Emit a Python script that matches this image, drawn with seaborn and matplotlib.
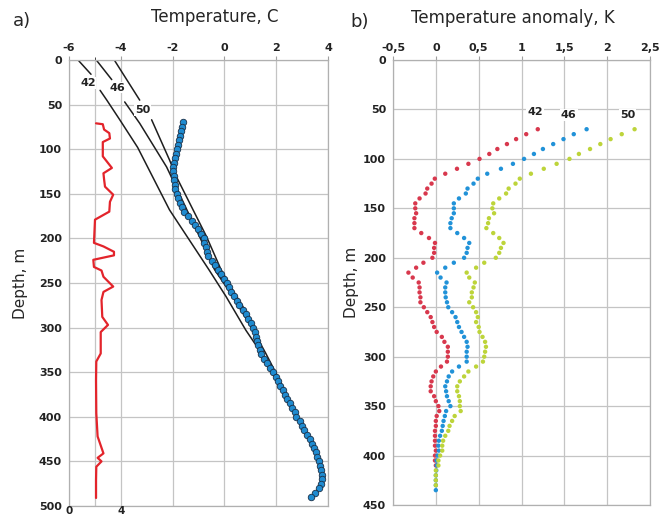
import matplotlib
matplotlib.use('Agg')
import matplotlib.pyplot as plt
import pandas as pd
import seaborn as sns

# ---------- a) temperature profile ----------
# measured temperature (blue dots), every 5 m
depth_a = list(range(70, 495, 5))
temp_a = [-1.60, -1.62, -1.66, -1.70, -1.74, -1.78, -1.82, -1.86, -1.91, -1.96,
          -2.00, -1.99, -1.96, -1.94, -1.91, -1.89, -1.84, -1.78, -1.72, -1.65,
          -1.55, -1.42, -1.26, -1.13, -1.01, -0.90, -0.80, -0.77, -0.72, -0.68,
          -0.62, -0.48, -0.37, -0.26, -0.14, -0.02, 0.09, 0.18, 0.26, 0.37,
          0.48, 0.58, 0.70, 0.82, 0.93, 1.02, 1.10, 1.18, 1.22, 1.26,
          1.30, 1.37, 1.43, 1.52, 1.65, 1.77, 1.88, 1.98, 2.07, 2.15,
          2.25, 2.34, 2.43, 2.53, 2.62, 2.71, 2.78, 2.90, 2.99, 3.08,
          3.19, 3.30, 3.40, 3.47, 3.53, 3.59, 3.64, 3.69, 3.74, 3.77,
          3.78, 3.74, 3.64, 3.51, 3.33]

# red curve, bottom axis 0..4
red_depth = [71, 72, 78, 82, 88, 92, 108, 121, 127, 134,
             142, 151, 159, 170, 179, 205, 209, 215, 219, 224,
             232, 236, 243, 254, 260, 269, 288, 297, 305, 329,
             338, 359, 396, 422, 441, 446, 450, 456, 471, 491]
red_vals = [2.08, 2.6, 2.7, 3.1, 3.15, 2.6, 2.6, 3.3, 2.65, 2.7,
            2.77, 3.4, 3.15, 3.1, 2.0, 1.92, 2.65, 3.46, 3.46, 1.87,
            1.92, 2.5, 2.65, 3.4, 2.65, 2.5, 2.56, 3.0, 2.44, 2.44,
            2.1, 2.08, 2.1, 2.2, 2.65, 2.2, 2.5, 2.1, 2.08, 2.08]

# black model curves, each broken where its label sits
line_names = ['42', '46', '50']
l42_top_d = [1, 16]
l42_top_t = [-5.62, -5.15]
l42_d = [34, 45, 67, 98, 168, 235, 265, 303, 336, 362, 385]
l42_t = [-4.80, -4.54, -4.04, -3.35, -2.12, -0.60, 0.06, 0.83, 1.60, 2.10, 2.50]
l46_top_d = [1, 22]
l46_top_t = [-4.92, -4.35]
l46_d = [47, 71, 120, 198, 235, 265, 299, 329, 351, 375]
l46_t = [-3.85, -3.27, -2.23, -0.96, -0.38, 0.32, 1.03, 1.60, 1.99, 2.40]
l50_top_d = [1, 45]
l50_top_t = [-4.23, -3.27]
l50_d = [67, 112, 131, 198, 235, 258, 288, 306, 329, 351, 375]
l50_t = [-2.81, -2.12, -1.85, -0.69, -0.13, 0.32, 0.96, 1.22, 1.41, 1.86, 2.35]
label_a_t = [-5.27, -4.15, -3.15]
label_a_d = [26, 31, 56]

# ---------- b) temperature anomaly ----------
depth_42 = list(range(70, 415, 5))
anom_42 = [1.19, 1.055, 0.937, 0.83, 0.718, 0.624, 0.51, 0.38, 0.247, 0.11,
           -0.012, -0.05, -0.10, -0.12, -0.19, -0.24, -0.24, -0.23, -0.25, -0.25,
           -0.25, -0.17, -0.08, -0.01, -0.02, -0.02, -0.04, -0.145, -0.23, -0.32,
           -0.27, -0.20, -0.19, -0.19, -0.18, -0.18, -0.14, -0.10, -0.06, -0.04,
           -0.02, 0.01, 0.07, 0.10, 0.14, 0.14, 0.14, 0.13, 0.06, 0.00,
           -0.03, -0.05, -0.06, -0.06, -0.02, 0.00, 0.03, 0.04, 0.01, 0.00,
           0.00, -0.01, -0.01, -0.01, -0.01, 0.00, -0.01, -0.01, 0.00]
depth_46 = list(range(70, 440, 5))
anom_46 = [1.76, 1.61, 1.49, 1.37, 1.25, 1.145, 1.03, 0.90, 0.76, 0.60,
           0.49, 0.44, 0.37, 0.35, 0.27, 0.21, 0.21, 0.21, 0.185, 0.17,
           0.17, 0.25, 0.33, 0.39, 0.37, 0.36, 0.33, 0.21, 0.11, 0.015,
           0.055, 0.125, 0.11, 0.11, 0.115, 0.13, 0.145, 0.19, 0.23, 0.25,
           0.27, 0.30, 0.33, 0.36, 0.37, 0.36, 0.36, 0.36, 0.27, 0.19,
           0.15, 0.13, 0.11, 0.12, 0.13, 0.15, 0.17, 0.12, 0.105, 0.09,
           0.08, 0.07, 0.05, 0.035, 0.03, 0.035, 0.02, 0.01, 0.01, 0.005,
           0.0, 0.0, 0.0, 0.0]
depth_50 = list(range(70, 435, 5))
anom_50 = [2.32, 2.17, 2.04, 1.92, 1.80, 1.67, 1.56, 1.41, 1.26, 1.11,
           0.98, 0.93, 0.85, 0.82, 0.74, 0.67, 0.66, 0.68, 0.62, 0.61,
           0.59, 0.67, 0.74, 0.79, 0.76, 0.74, 0.70, 0.565, 0.47, 0.36,
           0.39, 0.455, 0.44, 0.42, 0.42, 0.39, 0.435, 0.47, 0.49, 0.47,
           0.50, 0.51, 0.545, 0.575, 0.585, 0.575, 0.565, 0.55, 0.47, 0.38,
           0.33, 0.28, 0.25, 0.25, 0.27, 0.28, 0.28, 0.29, 0.22, 0.19,
           0.16, 0.145, 0.11, 0.085, 0.075, 0.075, 0.05, 0.03, 0.03, 0.0,
           0.0, 0.0, 0.0]
label_b_x = [1.16, 1.55, 2.24]
label_b_d = [53, 56, 56]

sns.set_style('white')
plt.rcParams['font.family'] = ['DejaVu Sans']

grid_c = '#c4c4c4'
tick_font = dict(fontsize=8, fontweight='bold', color='#222222')

fig = plt.figure(figsize=(6.65, 5.17), dpi=100)
ax = fig.add_axes([69 / 665, 11 / 517, 259 / 665, 446 / 517])
bx = fig.add_axes([393 / 665, 12 / 517, 257 / 665, 445 / 517])

# --- panel a
pieces = []
for name, d_top, t_top, d_low, t_low in [('42', l42_top_d, l42_top_t, l42_d, l42_t),
                                         ('46', l46_top_d, l46_top_t, l46_d, l46_t),
                                         ('50', l50_top_d, l50_top_t, l50_d, l50_t)]:
    pieces.append(pd.DataFrame({'depth': d_top, 'temp': t_top, 'piece': name + 'a'}))
    pieces.append(pd.DataFrame({'depth': d_low, 'temp': t_low, 'piece': name + 'b'}))
df_lines = pd.concat(pieces, ignore_index=True)

sns.lineplot(data=df_lines, x='temp', y='depth', units='piece', estimator=None,
             sort=False, color='#1e1e1e', lw=1.1, ax=ax, legend=False, zorder=2)
sns.scatterplot(x=temp_a, y=depth_a, ax=ax, s=22, color='#1f8bd0',
                edgecolor='#1b3047', linewidth=0.6, zorder=3)
for t, d, name in zip(label_a_t, label_a_d, line_names):
    ax.text(t, d, name, ha='center', va='center', zorder=4,
            bbox=dict(fc='white', ec='none', pad=0.6), **tick_font)

ax2 = ax.twiny()
sns.lineplot(x=red_vals, y=red_depth, ax=ax2, sort=False, estimator=None,
             color='#e3242b', lw=1.6)
ax2.set_xlim(0, 4 * 259 / 52)
ax2.xaxis.tick_bottom()
ax2.set_xticks([0, 4])
ax2.set_xticklabels(['0', '4'], fontsize=7.5, fontweight='bold', color='#222222')
ax2.tick_params(axis='x', length=0, pad=0)
ax2.grid(False)
ax2.set_xlabel('')
for s in ax2.spines.values():
    s.set_visible(False)

ax.xaxis.tick_top()
ax.set_xlim(-6, 4)
ax.set_ylim(500, 0)
ax.set_xticks(range(-6, 5, 2))
ax.set_xticks([-5], minor=True)
ax.set_yticks(range(0, 501, 50))
ax.set_xticklabels([str(v) for v in range(-6, 5, 2)], **tick_font)
ax.set_yticklabels([str(v) for v in range(0, 501, 50)], **tick_font)
ax.grid(True, which='both', color=grid_c, lw=0.9)
ax.set_axisbelow(True)
ax.set_xlabel('')
ax.set_ylabel('Depth, m', fontsize=11, labelpad=8)

# --- panel b
df_b = pd.concat([
    pd.DataFrame({'depth': depth_42, 'anom': anom_42, 'line': '42'}),
    pd.DataFrame({'depth': depth_46, 'anom': anom_46, 'line': '46'}),
    pd.DataFrame({'depth': depth_50, 'anom': anom_50, 'line': '50'}),
], ignore_index=True)
sns.scatterplot(data=df_b, x='anom', y='depth', hue='line', hue_order=line_names,
                palette=['#d8384d', '#2192d8', '#bdd43a'], s=10, linewidth=0,
                legend=False, ax=bx, zorder=3)
for x, d, name in zip(label_b_x, label_b_d, line_names):
    bx.text(x, d, name, ha='center', va='center', zorder=4,
            bbox=dict(fc='white', ec='none', pad=0.8), **tick_font)

bx.xaxis.tick_top()
bx.set_xlim(-0.5, 2.5)
bx.set_ylim(450, 0)
xt_b = [-0.5, 0, 0.5, 1, 1.5, 2, 2.5]
bx.set_xticks(xt_b)
bx.set_xticklabels(['-0,5', '0', '0,5', '1', '1,5', '2', '2,5'], **tick_font)
bx.set_yticks(range(0, 451, 50))
bx.set_yticklabels([str(v) for v in range(0, 451, 50)], **tick_font)
bx.grid(True, color=grid_c, lw=0.9)
bx.set_axisbelow(True)
bx.set_xlabel('')
bx.set_ylabel('Depth, m', fontsize=11, labelpad=3)

for a in (ax, bx):
    a.tick_params(length=3, color='#a0a0a0', pad=2)
    for s in a.spines.values():
        s.set_color('#b0b0b0')
        s.set_linewidth(0.9)

fig.text(215 / 665, 1 - 17 / 517, 'Temperature, C', ha='center', va='center', fontsize=12)
fig.text(513 / 665, 1 - 18 / 517, 'Temperature anomaly, K', ha='center', va='center', fontsize=12)
fig.text(22 / 665, 1 - 21 / 517, 'a)', ha='center', va='center', fontsize=13)
fig.text(360 / 665, 1 - 22 / 517, 'b)', ha='center', va='center', fontsize=13)

fig.savefig('out.png', dpi=100)
